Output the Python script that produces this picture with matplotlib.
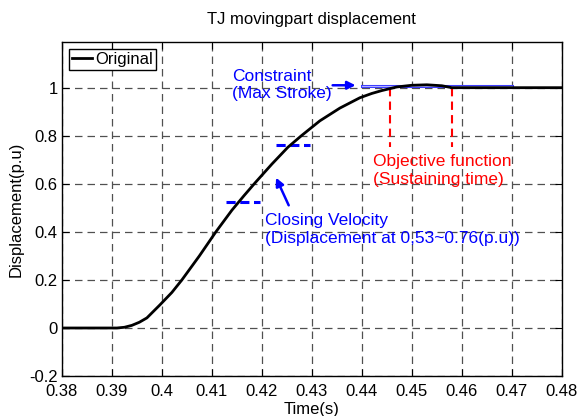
import numpy as np
import matplotlib.pyplot as plt
from matplotlib import font_manager

# fuente estrecha tipo MATLAB si existe
nombres = [f.name for f in font_manager.fontManager.ttflist]
fuente = 'Liberation Sans Narrow' if 'Liberation Sans Narrow' in nombres else 'Liberation Sans'
plt.rcParams['font.family'] = [fuente, 'DejaVu Sans']

# datos
tiempo = [0.38, 0.391, 0.3925, 0.3940, 0.3955, 0.3970, 0.3996, 0.4020, 0.4040,
          0.4075, 0.4108, 0.4140, 0.4164, 0.4186, 0.4220, 0.4252, 0.4279,
          0.4316, 0.4356, 0.4396, 0.4420, 0.4440, 0.4470, 0.4500, 0.4530,
          0.4560, 0.4580, 0.48]
desplaz = [0, 0, 0.003, 0.011, 0.024, 0.042, 0.096, 0.148, 0.20,
           0.30, 0.40, 0.49, 0.55, 0.603, 0.682, 0.752, 0.800,
           0.862, 0.915, 0.958, 0.976, 0.988, 1.003, 1.010, 1.012,
           1.008, 1.0, 1.0]

vel_t1 = [0.4128, 0.4196]
vel_y1 = [0.525, 0.525]
vel_t2 = [0.4228, 0.4296]
vel_y2 = [0.762, 0.762]

restr_t = [0.44, 0.47]
restr_y = [1.008, 1.008]

obj_t = [0.4456, 0.458]
obj_y = [1.0, 0.755]

xticks = np.round(np.arange(0.38, 0.4801, 0.01), 2)
yticks = np.round(np.arange(-0.2, 1.01, 0.2), 1)

fig = plt.figure(figsize=(5.84, 4.16), dpi=100)
ax = fig.add_axes([0.106, 0.096, 0.856, 0.803])

ax.plot(tiempo, desplaz, color='black', lw=2, label='Original', zorder=5)

ax.plot(vel_t1, vel_y1, color='blue', lw=2.2, ls=(0, (3, 1.5)))
ax.plot(vel_t2, vel_y2, color='blue', lw=2.2, ls=(0, (3, 1.5)))
ax.plot(restr_t, restr_y, color='#3838ff', lw=2.2)
ax.plot(restr_t, restr_y, color='#b0b0ff', lw=0.8)
for t in obj_t:
    ax.plot([t, t], obj_y, color='red', lw=1.5, ls=(0, (4, 2.5)))

ax.annotate('', xy=(0.4393, 1.01), xytext=(0.4336, 1.01),
            arrowprops=dict(arrowstyle='-|>', color='blue', lw=1.8, mutation_scale=12))
ax.annotate('', xy=(0.4226, 0.636), xytext=(0.4256, 0.50),
            arrowprops=dict(arrowstyle='-|>', color='blue', lw=1.8, mutation_scale=12))

ax.text(0.4140, 1.01, 'Constraint\n(Max Stroke)', color='blue', fontsize=12.5,
        va='center', ha='left', linespacing=1.2)
ax.text(0.4422, 0.655, 'Objective function\n(Sustaining time)', color='red', fontsize=12.5,
        va='center', ha='left', linespacing=1.2)
ax.text(0.4206, 0.41, 'Closing Velocity\n(Displacement at 0,53~0.76(p.u))', color='blue',
        fontsize=12.5, va='center', ha='left', linespacing=1.2)

ax.set_xlim(0.38, 0.48)
ax.set_ylim(-0.2, 1.19)
ax.set_xticks(xticks)
ax.set_xticklabels([('%g' % v) for v in xticks])
ax.set_yticks(yticks)
ax.set_yticklabels([('%g' % v) for v in yticks])
ax.tick_params(direction='in', top=True, right=True, length=5, labelsize=12)
ax.tick_params(axis='x', pad=6)
ax.tick_params(axis='y', pad=3)
ax.grid(True, color='#505050', ls=(0, (6, 4)), lw=0.9)
for s in ax.spines.values():
    s.set_linewidth(1.0)

ax.set_title('TJ movingpart displacement', fontsize=12, pad=13)
ax.set_xlabel('Time(s)', fontsize=12, labelpad=2)
ax.set_ylabel('Displacement(p.u)', fontsize=12, labelpad=4)

leg = ax.legend(loc='upper left', fancybox=False, edgecolor='black', framealpha=1,
                fontsize=12, handlelength=1.2, handletextpad=0.2, borderpad=0.2,
                borderaxespad=0.4)
leg.get_frame().set_linewidth(1.0)

plt.savefig('out.png', dpi=100)
